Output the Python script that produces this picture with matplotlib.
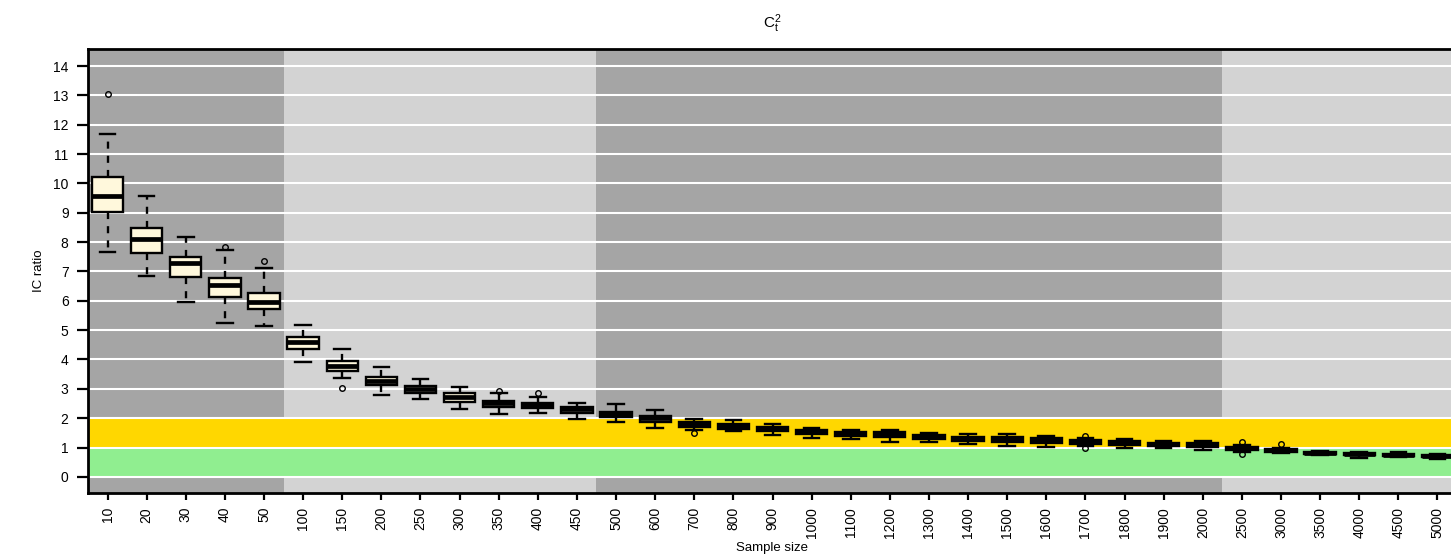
import matplotlib
matplotlib.use("Agg")
import matplotlib.pyplot as plt

plt.rcParams["font.family"] = ["Liberation Sans", "DejaVu Sans"]

# Tamanos de muestra evaluados
sample_sizes = ["10", "20", "30", "40", "50",
                "100", "150", "200", "250", "300", "350", "400", "450",
                "500", "600", "700", "800", "900", "1000", "1100", "1200",
                "1300", "1400", "1500", "1600", "1700", "1800", "1900", "2000",
                "2500", "3000", "3500", "4000", "4500", "5000"]

# Estadisticos de cada caja (IC ratio)
whis_hi = [11.68, 9.57, 8.17, 7.73, 7.11,
           5.18, 4.36, 3.75, 3.34, 3.07, 2.86, 2.72, 2.52,
           2.49, 2.28, 1.98, 1.94, 1.80, 1.67, 1.60, 1.60,
           1.50, 1.46, 1.46, 1.40, 1.33, 1.29, 1.23, 1.22,
           1.10, 1.00, 0.88, 0.85, 0.85, 0.77]
q3 = [10.22, 8.48, 7.50, 6.78, 6.27,
      4.77, 3.95, 3.41, 3.10, 2.86, 2.59, 2.52, 2.38,
      2.21, 2.08, 1.87, 1.80, 1.70, 1.60, 1.52, 1.52,
      1.42, 1.37, 1.35, 1.32, 1.25, 1.22, 1.17, 1.14,
      1.03, 0.95, 0.85, 0.81, 0.78, 0.73]
median = [9.57, 8.10, 7.28, 6.54, 5.96,
          4.60, 3.78, 3.27, 3.00, 2.72, 2.50, 2.45, 2.30,
          2.15, 2.00, 1.80, 1.72, 1.62, 1.53, 1.47, 1.45,
          1.37, 1.30, 1.28, 1.25, 1.20, 1.15, 1.12, 1.08,
          0.98, 0.90, 0.82, 0.77, 0.74, 0.70]
q1 = [9.03, 7.63, 6.81, 6.13, 5.72,
      4.36, 3.61, 3.13, 2.86, 2.55, 2.38, 2.35, 2.18,
      2.04, 1.87, 1.70, 1.62, 1.55, 1.45, 1.40, 1.35,
      1.30, 1.23, 1.20, 1.17, 1.13, 1.08, 1.06, 1.02,
      0.93, 0.86, 0.78, 0.73, 0.70, 0.66]
whis_lo = [7.66, 6.85, 5.96, 5.24, 5.14,
           3.92, 3.37, 2.79, 2.66, 2.32, 2.15, 2.18, 1.98,
           1.87, 1.67, 1.60, 1.55, 1.43, 1.33, 1.29, 1.19,
           1.19, 1.12, 1.06, 1.03, 1.05, 0.99, 1.00, 0.93,
           0.86, 0.82, 0.75, 0.65, 0.66, 0.62]
outliers = [[13.04], [], [], [7.83], [7.36],
            [], [3.03], [], [], [], [2.93], [2.86], [],
            [], [], [1.50], [], [], [], [], [],
            [], [], [], [], [1.38, 0.98], [], [], [],
            [1.19, 0.78], [1.12], [], [], [], []]

stats = []
for i, lab in enumerate(sample_sizes):
    stats.append({"label": lab, "whislo": whis_lo[i], "q1": q1[i],
                  "med": median[i], "q3": q3[i], "whishi": whis_hi[i],
                  "fliers": outliers[i]})

fig = plt.figure(figsize=(14.51, 5.56), dpi=100)
ax = fig.add_axes([88 / 1451, 63 / 556, 1369 / 1451, 444 / 556])

n = len(sample_sizes)
pos = list(range(1, n + 1))

# Fondos por grupos de tamano de muestra
grupos = [(0.5, 5.5, "#a5a5a5"), (5.5, 13.5, "#d3d3d3"),
          (13.5, 29.5, "#a5a5a5"), (29.5, n + 0.5, "#d3d3d3")]
for x0, x1, col in grupos:
    ax.axvspan(x0, x1, color=col, zorder=0, lw=0)
ax.axhspan(1, 2, color="#ffd700", zorder=0.5, lw=0)
ax.axhspan(0, 1, color="#90ee90", zorder=0.5, lw=0)
for y in range(0, 15):
    ax.axhline(y, color="white", lw=1.5, zorder=1)

ax.bxp(stats, positions=pos, widths=0.8, capwidths=0.4, patch_artist=True,
       boxprops=dict(facecolor="#fff8dc", edgecolor="black", linewidth=1.7),
       medianprops=dict(color="black", linewidth=3.4),
       whiskerprops=dict(color="black", linewidth=1.7, linestyle=(0, (3, 3))),
       capprops=dict(color="black", linewidth=1.7),
       flierprops=dict(marker="o", markerfacecolor="none",
                       markeredgecolor="black", markersize=4, markeredgewidth=1),
       zorder=3)

ax.set_xlim(0.5, n + 0.5)
ax.set_ylim(-0.55, 14.58)
ax.set_yticks(range(0, 15))
ax.set_xticks(pos)
ax.set_xticklabels(sample_sizes, rotation=90)
ax.tick_params(axis="y", direction="out", length=8, width=1.6, pad=6,
               labelsize=10, colors="black")
ax.tick_params(axis="x", direction="out", length=5, width=1.6, pad=5,
               labelsize=10, colors="black")
for s in ax.spines.values():
    s.set_linewidth(2)

ax.set_title(r"$\mathregular{C_t^2}$", fontsize=11, pad=15)
ax.set_ylabel("IC ratio", fontsize=9.5, labelpad=6)
ax.set_xlabel("Sample size", fontsize=9.5, labelpad=3)

fig.savefig("out.png", dpi=100)
